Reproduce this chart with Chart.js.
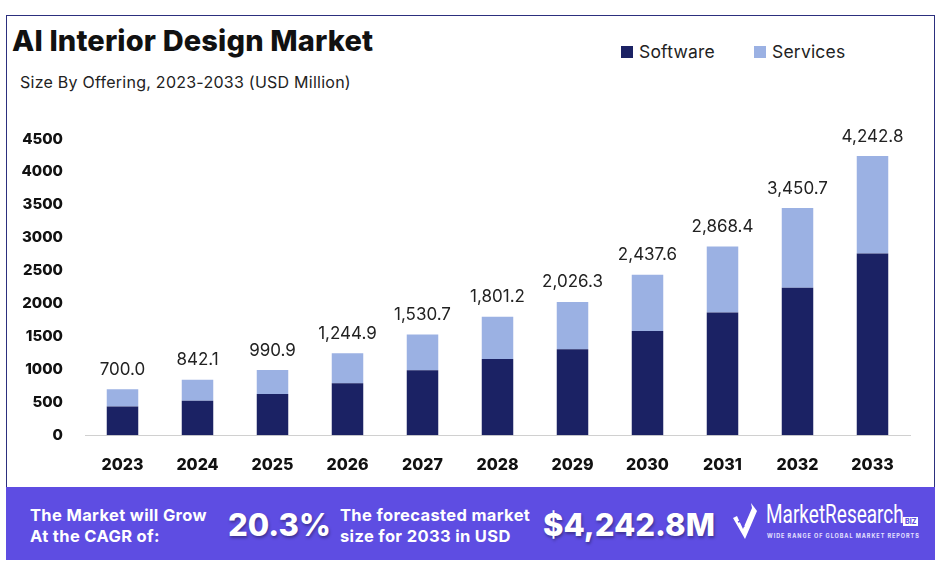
<!DOCTYPE html>
<html>
<head>
<meta charset="utf-8">
<script src="https://cdn.jsdelivr.net/npm/chart.js@4/dist/chart.umd.min.js"></script>
<style>
  html,body{margin:0;padding:0;background:#fff;}
  body{width:942px;height:583px;position:relative;overflow:hidden;font-family:"Inter","Noto Sans",sans-serif;}
  #frame{position:absolute;left:6px;top:15px;width:929px;height:472px;border:1.5px solid #2c2f7e;border-bottom:none;box-sizing:border-box;}
  #wrap{position:absolute;left:0;top:0;width:942px;height:505px;}
  #title{position:absolute;left:12px;top:23px;font-size:29px;font-weight:800;color:#111;letter-spacing:0.15px;}
  #sub{position:absolute;left:20px;top:72px;font-size:16px;color:#222;letter-spacing:0.25px;}
  .leg{position:absolute;top:41px;font-size:17.5px;color:#222;display:flex;align-items:center;letter-spacing:0.2px;}
  .leg span.box{display:inline-block;width:12px;height:12px;margin-right:6px;}
  #banner{position:absolute;left:6px;top:487px;width:929px;height:73px;background:#5e4de2;color:#fff;}
  .bt{position:absolute;font-weight:700;font-size:16.5px;line-height:21px;letter-spacing:0.35px;}
  .big{position:absolute;font-weight:800;font-size:31px;text-shadow:1px 2px 3px rgba(0,0,0,0.35);}
  #logo{position:absolute;left:726px;top:15px;}
  #mr{position:absolute;left:760px;top:13px;font-family:"Roboto","Liberation Sans",sans-serif;font-size:25px;color:#fff;transform:scaleX(0.76);transform-origin:left top;white-space:nowrap;}
  #biz{position:absolute;left:897px;top:30px;font-size:7px;font-weight:800;background:#fff;color:#5e4de2;padding:0 2px;line-height:9px;}
  #tag{position:absolute;left:761px;top:46px;font-size:5.5px;font-weight:700;letter-spacing:0.95px;color:#e6e3ff;white-space:nowrap;}
</style>
</head>
<body>
<div id="frame"></div>
<div id="title">AI Interior Design Market</div>
<div id="sub">Size By Offering, 2023-2033 (USD Million)</div>
<div class="leg" style="left:621px;"><span class="box" style="background:#1b2264"></span>Software</div>
<div class="leg" style="left:754px;"><span class="box" style="background:#9bb1e3"></span>Services</div>
<div id="wrap"><canvas id="c" width="942" height="505"></canvas></div>
<div id="banner">
  <div class="bt" style="left:24px;top:18px;">The Market will Grow<br>At the CAGR of:</div>
  <div class="big" style="left:222px;top:19px;">20.3%</div>
  <div class="bt" style="left:334px;top:18px;">The forecasted market<br>size for 2033 in USD</div>
  <div class="big" style="left:537px;top:19px;">$4,242.8M</div>
  <svg id="logo" width="26" height="38" viewBox="0 0 26 38">
    <path d="M1 16 L5 14 L11 27 L20 6 L19 1 L25 9 L13 37 Z" fill="#fff"/>
    <path d="M6 20 L9 19 L12 25" fill="none" stroke="#5e4de2" stroke-width="1.6"/>
  </svg>
  <div id="mr">MarketResearch</div>
  <div id="biz">BIZ</div>
  <div id="tag">WIDE RANGE OF GLOBAL MARKET REPORTS</div>
</div>
<script>
const years = ["2023","2024","2025","2026","2027","2028","2029","2030","2031","2032","2033"];
const software = [439, 526, 629, 791, 989, 1158, 1307, 1584, 1866, 2239, 2761];
const services = [261, 316, 362, 454, 542, 643, 719, 854, 1002, 1212, 1482];
const totals = [700.0, 842.1, 990.9, 1244.9, 1530.7, 1801.2, 2026.3, 2437.6, 2868.4, 3450.7, 4242.8];
const yTicks = [0, 500, 1000, 1500, 2000, 2500, 3000, 3500, 4000, 4500];

const totalLabels = {
  id: 'totalLabels',
  afterDatasetsDraw(chart) {
    const ctx = chart.ctx;
    const x = chart.scales.x, y = chart.scales.y;
    ctx.save();
    ctx.font = '400 17px Inter, "Noto Sans", sans-serif';
    ctx.fillStyle = '#222';
    ctx.textAlign = 'center';
    ctx.textBaseline = 'bottom';
    totals.forEach((t, i) => {
      const txt = t.toLocaleString('en-US', {minimumFractionDigits:1, maximumFractionDigits:1});
      ctx.fillText(txt, x.getPixelForValue(i), y.getPixelForValue(t) - 11);
    });
    ctx.restore();
  }
};

new Chart(document.getElementById('c'), {
  type: 'bar',
  data: {
    labels: years,
    datasets: [
      {label: 'Software', data: software, backgroundColor: '#1b2264', barPercentage: 0.42, categoryPercentage: 1},
      {label: 'Services', data: services, backgroundColor: '#9bb1e3', barPercentage: 0.42, categoryPercentage: 1}
    ]
  },
  options: {
    responsive: false,
    animation: false,
    devicePixelRatio: 1,
    layout: {padding: {left: 0, right: 32, top: 139, bottom: 18.5}},
    plugins: {legend: {display: false}, tooltip: {enabled: false}},
    scales: {
      x: {
        stacked: true,
        grid: {display: false},
        border: {display: true, color: '#d0d0d0', width: 1},
        ticks: {color: '#111', font: {family: 'Inter, "Noto Sans", sans-serif', size: 16, weight: '800'}, padding: 12}
      },
      y: {
        stacked: true,
        min: 0, max: 4500,
        afterBuildTicks(s) { s.ticks = yTicks.map(v => ({value: v})); },
        afterFit(s) { s.width = 85; },
        grid: {display: false, drawTicks: false},
        border: {display: false},
        ticks: {color: '#111', font: {family: 'Inter, "Noto Sans", sans-serif', size: 15, weight: '800'}, padding: 22,
          callback: (v) => String(v)}
      }
    }
  },
  plugins: [totalLabels]
});
</script>
</body>
</html>
